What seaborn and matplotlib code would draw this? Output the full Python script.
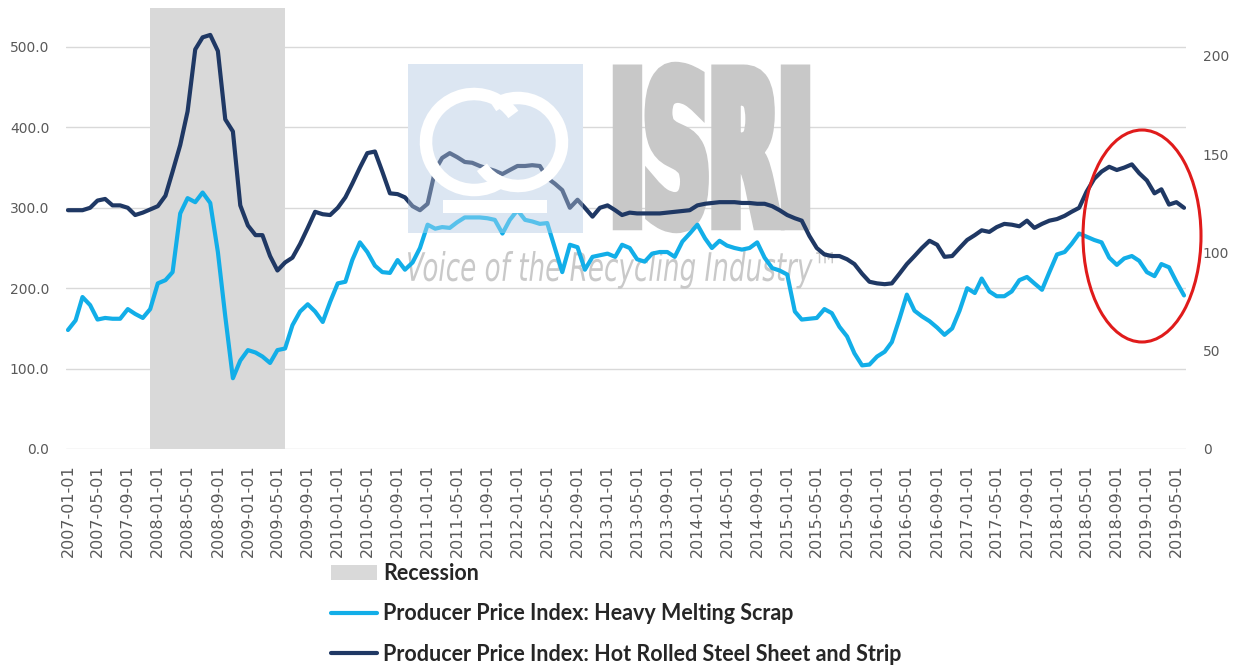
import pandas as pd
import numpy as np
import matplotlib
matplotlib.use("Agg")
import matplotlib.pyplot as plt
import seaborn as sns
from matplotlib.patches import Patch, PathPatch, Arc, Ellipse, Rectangle
from matplotlib.lines import Line2D
from matplotlib.textpath import TextPath
from matplotlib.font_manager import FontProperties
from matplotlib.transforms import Affine2D

### Data (monthly, 2007-01 .. 2019-06)
start_month = "2007-01-01"

heavy_melting_scrap = [
    148, 160, 189, 179, 161, 163, 162, 162, 174, 168, 163, 174,   # 2007
    206, 210, 220, 293, 312, 307, 319, 306, 245, 165, 88, 110,    # 2008
    123, 120, 115, 107, 123, 125, 154, 171, 180, 171, 158, 183,   # 2009
    206, 208, 235, 257, 245, 228, 220, 219, 235, 223, 232, 250,   # 2010
    279, 274, 276, 275, 282, 288, 288, 288, 287, 285, 268, 285,   # 2011
    297, 285, 283, 280, 281, 250, 220, 254, 251, 223, 239, 241,   # 2012
    243, 239, 254, 250, 236, 233, 243, 245, 245, 239, 258, 268,   # 2013
    279, 262, 250, 259, 253, 250, 248, 250, 257, 238, 225, 222,   # 2014
    217, 171, 161, 162, 163, 174, 169, 152, 140, 119, 104, 105,   # 2015
    115, 121, 133, 162, 192, 172, 165, 159, 151, 142, 150, 172,   # 2016
    200, 194, 212, 196, 190, 190, 196, 210, 214, 206, 198, 220,   # 2017
    242, 245, 255, 268, 264, 260, 257, 238, 229, 237, 240, 234,   # 2018
    220, 215, 230, 226, 208, 191,                                 # 2019
]

hot_rolled_steel = [
    297, 297, 297, 300, 309, 311, 303, 303, 300, 291, 294, 298,   # 2007
    302, 315, 345, 378, 420, 497, 512, 515, 495, 410, 395, 303,   # 2008
    278, 266, 266, 240, 222, 232, 238, 255, 275, 295, 292, 291,   # 2009
    300, 313, 330, 350, 368, 370, 345, 318, 317, 313, 302, 297,   # 2010
    305, 347, 362, 368, 363, 357, 356, 352, 349, 346, 342, 347,   # 2011
    352, 352, 353, 352, 337, 330, 322, 300, 310, 300, 289, 300,   # 2012
    303, 297, 291, 294, 293, 293, 293, 293, 294, 295, 296, 297,   # 2013
    303, 305, 306, 307, 307, 307, 306, 306, 305, 305, 302, 297,   # 2014
    291, 287, 284, 265, 250, 242, 240, 240, 236, 230, 218, 208,   # 2015
    206, 205, 206, 218, 230, 240, 250, 259, 254, 239, 240, 250,   # 2016
    260, 266, 272, 270, 276, 280, 279, 277, 284, 275, 280, 284,   # 2017
    286, 290, 295, 300, 320, 336, 345, 351, 347, 350, 354, 343,   # 2018
    334, 318, 323, 304, 307, 300,                                 # 2019
]

recession_start = "2007-12-01"
recession_end = "2009-06-01"

left_ticks = [0, 100, 200, 300, 400, 500]
right_ticks = [0, 50, 100, 150, 200]

label_recession = "Recession"
label_hms = "Producer Price Index: Heavy Melting Scrap"
label_hr = "Producer Price Index: Hot Rolled Steel Sheet and Strip"

dates = pd.date_range(start_month, periods=len(heavy_melting_scrap), freq="MS")
df = pd.DataFrame({"date": dates, "hms": heavy_melting_scrap, "hr": hot_rolled_steel})

LIGHT = "#12aee8"
DARK = "#1f3864"
GREY = "#d9d9d9"
TXT = "#595959"

sns.set_style("white")
plt.rcParams["font.family"] = ["DejaVu Sans"]

W, H = 1236, 670
fig = plt.figure(figsize=(W / 100, H / 100), dpi=100)
ax = fig.add_axes([66 / W, 1 - 449 / H, (1186 - 66) / W, (449 - 8) / H])
px = Affine2D().scale(1 / W, 1 / H) + fig.transFigure  # pixel coords, y up


def stretched_text(axis, s, box, color, z, lw=0, **font):
    # fit a text path into a pixel box (x0, y_top, x1, y_bottom)
    tp = TextPath((0, 0), s, size=100, prop=FontProperties(**font))
    bb = tp.get_extents()
    x0, yt, x1, yb = box
    tr = (Affine2D().translate(-bb.x0, -bb.y0)
          .scale((x1 - x0) / bb.width, (yb - yt) / bb.height)
          .translate(x0, H - yb)) + px
    axis.add_patch(PathPatch(tp, transform=tr, facecolor=color, edgecolor=color,
                             lw=lw, zorder=z, clip_on=False))


# recession band
ax.axvspan(pd.Timestamp(recession_start), pd.Timestamp(recession_end),
           color=GREY, lw=0, zorder=1)

# watermark (under the lines)
ax.add_patch(Rectangle((408, H - 233), 175, 169, transform=px, facecolor="#dce6f2",
                       edgecolor="none", zorder=1.1, clip_on=False))
stretched_text(ax, "ISRI", (619, 68, 804, 227), "#c8c8c8", 1.2, lw=9,
               family="DejaVu Sans", weight="bold")
stretched_text(ax, "Voice of the Recycling Industry\u2122", (408, 251, 833, 289),
               "#c9c9c9", 1.3, family="DejaVu Sans", style="italic")

sns.lineplot(data=df, x="date", y="hms", color=LIGHT, lw=3, ax=ax, zorder=2,
             solid_joinstyle="round")
sns.lineplot(data=df, x="date", y="hr", color=DARK, lw=3, ax=ax, zorder=2.1,
             solid_joinstyle="round")

# box overlay lightens the lines passing through it, plus logo rings
ax.add_patch(Rectangle((408, H - 233), 175, 169, transform=px, facecolor="#dce6f2",
                       edgecolor="none", alpha=0.35, zorder=3, clip_on=False))
for cx, cy, r, t1, t2 in [(474, 142, 48, 35, 305), (518, 142, 44, -145, 125)]:
    ax.add_patch(Arc((cx, H - cy), 2 * r, 2 * r, theta1=t1, theta2=t2, transform=px,
                     color="white", lw=9, zorder=3.1, clip_on=False))
ax.add_patch(Rectangle((443, H - 213), 104, 13, transform=px, facecolor="white",
                       edgecolor="none", zorder=3.1, clip_on=False))

# red highlight ellipse
ax.add_patch(Ellipse((1142, H - 236), 118, 212, transform=px, fill=False,
                     edgecolor="#e01b1b", lw=2.2, zorder=4, clip_on=False))

# axes formatting
pad = pd.Timedelta(days=8)
ax.set_xlim(dates[0] - pad, dates[-1] + pad)
tick_dates = pd.date_range(start_month, dates[-1], freq="4MS")
ax.set_xticks(tick_dates)
ax.set_xticklabels([d.strftime("%Y-%m-%d") for d in tick_dates], rotation=90)
ax.set_ylim(0, 548.5)
ax.set_yticks(left_ticks)
ax.set_yticklabels([f"{v:.1f}" for v in left_ticks])
ax.set_xlabel("")
ax.set_ylabel("")
ax.grid(False)
ax.yaxis.grid(True, color=GREY, lw=1)
ax.set_axisbelow(True)
ax.tick_params(axis="x", length=0, pad=11, labelsize=11.5, colors=TXT)
ax.tick_params(axis="y", length=0, pad=12, labelsize=10, colors=TXT)
sns.despine(ax=ax, left=True, bottom=True)

ax2 = ax.twinx()
ax2.set_ylim(0, 224.3)
ax2.set_yticks(right_ticks)
ax2.set_yticklabels([str(v) for v in right_ticks])
ax2.tick_params(axis="y", length=0, pad=12, labelsize=10, colors=TXT)
ax2.grid(False)
for s in ax2.spines.values():
    s.set_visible(False)

handles = [
    Patch(facecolor=GREY, edgecolor="none", label=label_recession),
    Line2D([], [], color=LIGHT, lw=3, label=label_hms),
    Line2D([], [], color=DARK, lw=3, label=label_hr),
]
fig.legend(handles=handles, loc="upper left", bbox_to_anchor=(331 / W, 1 - 563 / H),
           frameon=False, prop=FontProperties(family="Lato", weight="bold", size=15.5),
           handlelength=2.15, handletextpad=0.28, labelspacing=0.9,
           borderpad=0, borderaxespad=0)

fig.savefig("out.png", dpi=100)
